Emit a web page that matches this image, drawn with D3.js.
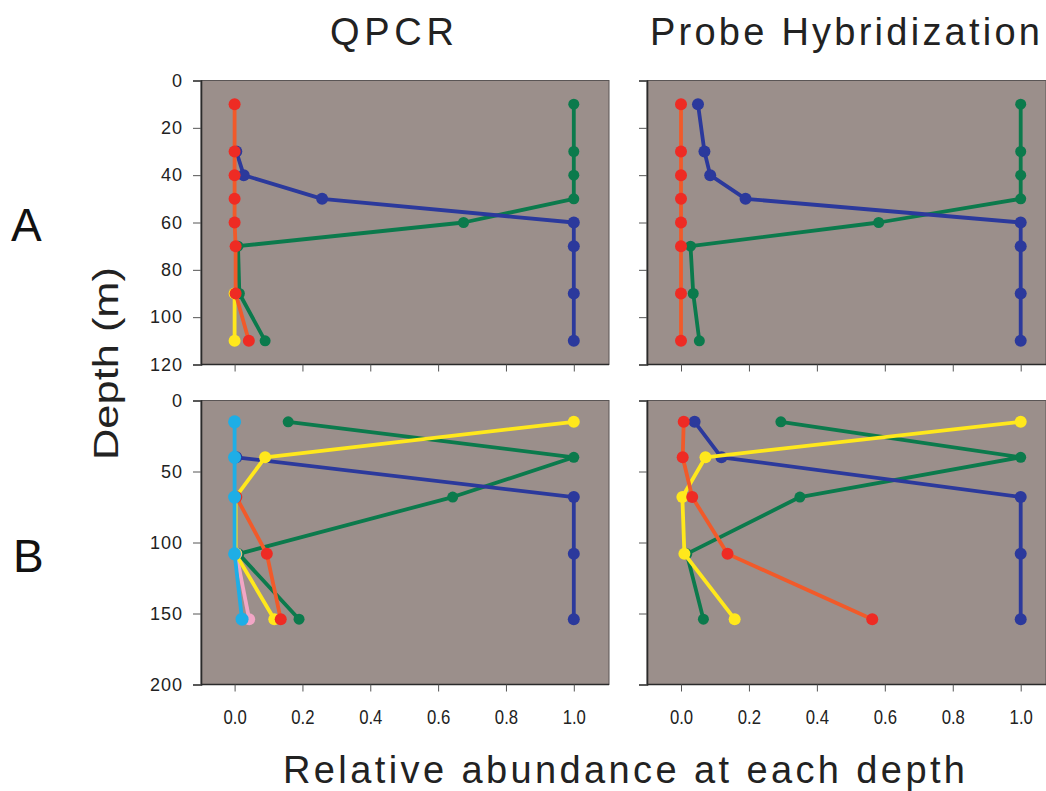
<!DOCTYPE html>
<html><head><meta charset="utf-8">
<script src="https://cdn.jsdelivr.net/npm/d3@7"></script>
<style>body{margin:0;background:#fff}svg{display:block}</style>
</head><body><svg id="c" width="1046" height="791"></svg>
<script>
// ---- data ----
const depthsA = [10, 30, 40, 50, 60, 70, 90, 110];
const depthsB = [15, 40, 68, 108, 154];
const xTicks = [0, 0.2, 0.4, 0.6, 0.8, 1.0];
const yTicksA = [0, 20, 40, 60, 80, 100, 120];
const yTicksB = [0, 50, 100, 150, 200];
const columnTitles = ["QPCR", "Probe Hybridization"];
const rowLabels = ["A", "B"];

// Panel A, QPCR
const qpcrA_green  = [1, 1, 1, 1, 0.675, 0.01, 0.014, 0.09];
const qpcrA_blue   = [null, 0.005, 0.027, 0.258, 1, 1, 1, 1];
const qpcrA_yellow = [null, null, null, null, null, null, 0, 0];
const qpcrA_red    = [0, 0, 0, 0, 0, 0.003, 0.003, 0.042];
// Panel A, Probe hybridization
const probeA_green = [1, 1, 1, 1, 0.582, 0.028, 0.036, 0.054];
const probeA_blue  = [0.05, 0.069, 0.086, 0.19, 1, 1, 1, 1];
const probeA_red   = [0, 0, 0, 0, 0, 0, 0, 0];
// Panel B, QPCR
const qpcrB_green  = [0.158, 1, 0.643, 0.012, 0.19];
const qpcrB_blue   = [null, 0.005, 1, 1, 1];
const qpcrB_pink   = [null, null, null, 0.005, 0.043];
const qpcrB_yellow = [1, 0.09, 0.003, 0.003, 0.117];
const qpcrB_red    = [null, null, 0.005, 0.095, 0.136];
const qpcrB_cyan   = [0, 0, 0, 0, 0.022];
// Panel B, Probe hybridization
const probeB_green  = [0.294, 1, 0.35, 0.017, 0.066];
const probeB_blue   = [0.04, 0.119, 1, 1, 1];
const probeB_yellow = [1, 0.072, 0.004, 0.01, 0.158];
const probeB_red    = [0.008, 0.005, 0.033, 0.137, 0.563];

// ---- styles ----
const style = {
  green:  {line: "#0b7a4c", dot: "#0b7a4c", r: 5.5},
  blue:   {line: "#2b399c", dot: "#2b399c", r: 6},
  pink:   {line: "#f2a6c6", dot: "#f2a6c6", r: 6},
  yellow: {line: "#ffe81c", dot: "#ffe81c", r: 6},
  red:    {line: "#f15a2a", dot: "#ee2b24", r: 6},
  cyan:   {line: "#1eaee6", dot: "#1eaee6", r: 6.5}
};

const panels = [
  {depths: depthsA, yMax: 120, yTicks: yTicksA, x0: 201, x1: 609, y0: 80.5, y1: 364.5, left: true,  xlabels: false,
   series: [["green", qpcrA_green], ["blue", qpcrA_blue], ["yellow", qpcrA_yellow], ["red", qpcrA_red]]},
  {depths: depthsA, yMax: 120, yTicks: yTicksA, x0: 647, x1: 1046, y0: 80.5, y1: 364.5, left: false, xlabels: false,
   series: [["green", probeA_green], ["blue", probeA_blue], ["red", probeA_red]]},
  {depths: depthsB, yMax: 200, yTicks: yTicksB, x0: 201, x1: 609, y0: 400.5, y1: 684.5, left: true,  xlabels: true,
   series: [["green", qpcrB_green], ["blue", qpcrB_blue], ["pink", qpcrB_pink], ["yellow", qpcrB_yellow], ["red", qpcrB_red], ["cyan", qpcrB_cyan]]},
  {depths: depthsB, yMax: 200, yTicks: yTicksB, x0: 647, x1: 1046, y0: 400.5, y1: 684.5, left: false, xlabels: true,
   series: [["green", probeB_green], ["blue", probeB_blue], ["yellow", probeB_yellow], ["red", probeB_red]]}
];

const svg = d3.select("#c");
const FONT = "'Liberation Sans', Arial, Helvetica, sans-serif";

panels.forEach(p => {
  const xr = p.left ? [234.6, 573.8] : [681, 1020.7];
  const x = d3.scaleLinear().domain([0, 1]).range(xr);
  const y = d3.scaleLinear().domain([0, p.yMax]).range([p.y0, p.y1]);
  const g = svg.append("g");
  g.append("rect").attr("x", p.x0).attr("y", p.y0).attr("width", p.x1 - p.x0).attr("height", p.y1 - p.y0)
    .attr("fill", "#9b8f8b").attr("stroke", "#5a5555").attr("stroke-width", 1);

  // y axis
  const ya = d3.axisLeft(y).tickValues(p.yTicks).tickSize(8).tickPadding(10)
    .tickFormat(p.left ? d3.format("d") : () => "");
  const yg = g.append("g").attr("transform", `translate(${p.x0},0)`).call(ya);
  yg.select(".domain").attr("stroke", "#2a2a2a").attr("stroke-width", 1.6);
  yg.selectAll(".tick line").attr("stroke", "#555");
  yg.selectAll(".tick text").attr("font-family", FONT).attr("font-size", 18).attr("fill", "#222")
    .attr("letter-spacing", 1);

  // x axis
  const xa = d3.axisBottom(x).tickValues(xTicks).tickSize(7).tickPadding(17)
    .tickFormat(p.xlabels ? d3.format(".1f") : () => "");
  const xg = g.append("g").attr("transform", `translate(0,${p.y1})`).call(xa);
  xg.select(".domain").attr("d", `M${p.x0},0H${p.x1}`).attr("stroke", "#2a2a2a").attr("stroke-width", 1.6);
  xg.selectAll(".tick line").attr("stroke", "#555");
  xg.selectAll(".tick text").attr("font-family", FONT).attr("font-size", 19).attr("fill", "#222")
    .attr("transform", "scale(0.88,1.05)");

  const line = d3.line().defined(d => d.v != null).x(d => x(d.v)).y(d => y(d.d));
  p.series.forEach(([name, vals]) => {
    const st = style[name];
    const pts = vals.map((v, i) => ({v, d: p.depths[i]}));
    g.append("path").datum(pts).attr("d", line).attr("fill", "none")
      .attr("stroke", st.line).attr("stroke-width", 3.8).attr("stroke-linejoin", "round");
    g.selectAll(null).data(pts.filter(d => d.v != null)).enter().append("circle")
      .attr("cx", d => x(d.v)).attr("cy", d => y(d.d)).attr("r", st.r).attr("fill", st.dot);
  });
});

function spacedText(str, x, y, size, width) {
  svg.append("text").text(str).attr("x", x).attr("y", y)
    .attr("font-family", FONT).attr("font-size", size).attr("fill", "#222")
    .attr("textLength", width).attr("lengthAdjust", "spacing");
}
spacedText(columnTitles[0], 330, 45, 38, 124);
spacedText(columnTitles[1], 650, 45, 38, 390);
spacedText("Relative abundance at each depth", 283, 783, 38, 682);

svg.append("text").text(rowLabels[0]).attr("x", 11).attr("y", 241)
  .attr("font-family", FONT).attr("font-size", 46).attr("fill", "#111");
svg.append("text").text(rowLabels[1]).attr("x", 13).attr("y", 572)
  .attr("font-family", FONT).attr("font-size", 46).attr("fill", "#111");
svg.append("text").text("Depth (m)").attr("transform", "translate(118,460) rotate(-90)")
  .attr("font-family", FONT).attr("font-size", 35).attr("fill", "#222")
  .attr("textLength", 193).attr("lengthAdjust", "spacingAndGlyphs");
</script></body></html>
